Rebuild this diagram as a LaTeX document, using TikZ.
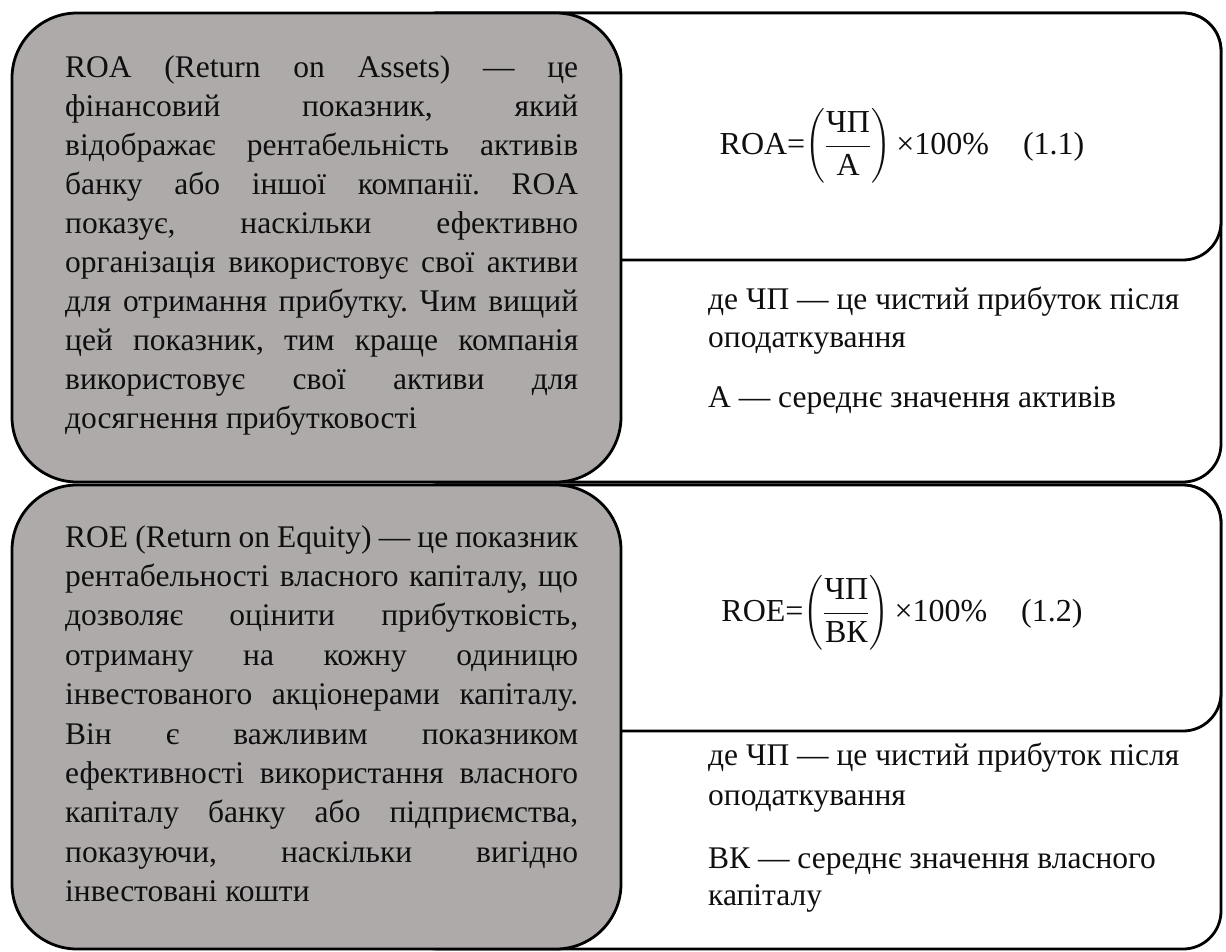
\RequirePackage{fix-cm}
\documentclass[tikz,border=0pt]{standalone}
\usepackage{amsmath}
\usepackage{fontspec}
\setmainfont{Liberation Serif}

\definecolor{boxgray}{RGB}{174,170,170}
\definecolor{ink}{RGB}{15,15,15}

% one justified line of a paragraph: all interword spaces stretch evenly
\newcommand\jline[1]{\hbox to\hsize{\frenchspacing\spaceskip=\fontdimen2\font plus 1fil minus 0.25em\relax #1}}
\newcommand\lline[1]{\hbox{\frenchspacing #1}}

\tikzset{
  frame/.style={draw=black, line width=2.8pt, rounded corners=38pt, fill=white},
  graybox/.style={draw=black, line width=2.8pt, rounded corners=65pt, fill=boxgray},
  body/.style={anchor=base west, inner sep=0pt, text=ink, font=\fontsize{31.5}{39}\selectfont},
  formula/.style={anchor=center, inner sep=0pt, text=ink, font=\fontsize{32}{39}\selectfont},
}

\begin{document}
\begin{tikzpicture}[x=1pt, y=-1pt]
  \useasboundingbox[fill=white] (0,0) rectangle (1226,951);

  % ---- ROA row ----
  \draw[frame] (400,13) rectangle (1221,482);
  \draw[frame] (400,13) rectangle (1221,260);
  \draw[graybox] (12,13) rectangle (621,482);

  \node[body] (roatext) at (65,77) {\vtop{\hsize=513pt \baselineskip=39pt
    \jline{ROA (Return on Assets) — це}
    \jline{фінансовий показник, який}
    \jline{відображає рентабельність активів}
    \jline{банку або іншої компанії. ROA}
    \jline{показує, наскільки ефективно}
    \jline{організація використовує свої активи}
    \jline{для отримання прибутку. Чим вищий}
    \jline{цей показник, тим краще компанія}
    \jline{використовує свої активи для}
    \lline{досягнення прибутковості}}};

  \node[formula] (roaformula) at (902,146)
    {$\text{ROA=}\!\left(\dfrac{\text{ЧП}}{\text{А}}\right)\text{×100\%}$\hspace{34pt}(1.1)};

  \node[body] (roanote) at (708,309) {\vtop{\hsize=500pt \baselineskip=38pt
    \lline{де ЧП — це чистий прибуток після}
    \lline{оподаткування}}};
  \node[body] (roaassets) at (708,407) {А — середнє значення активів};

  % ---- ROE row ----
  \draw[frame] (400,485) rectangle (1221,949);
  \draw[frame] (400,485) rectangle (1221,731);
  \draw[graybox] (12,485) rectangle (621,949);

  \node[body] (roetext) at (65,547) {\vtop{\hsize=513pt \baselineskip=39.4pt
    \jline{ROE (Return on Equity) — це показник}
    \jline{рентабельності власного капіталу, що}
    \jline{дозволяє оцінити прибутковість,}
    \jline{отриману на кожну одиницю}
    \jline{інвестованого акціонерами капіталу.}
    \jline{Він є важливим показником}
    \jline{ефективності використання власного}
    \jline{капіталу банку або підприємства,}
    \jline{показуючи, наскільки вигідно}
    \lline{інвестовані кошти}}};

  \node[formula] (roeformula) at (902,613)
    {$\text{ROE=}\!\left(\dfrac{\text{ЧП}}{\text{ВК}}\right)\text{×100\%}$\hspace{34pt}(1.2)};

  \node[body] (roenote) at (708,765) {\vtop{\hsize=500pt \baselineskip=40pt
    \lline{де ЧП — це чистий прибуток після}
    \lline{оподаткування}}};
  \node[body] (roeequity) at (708,868) {\vtop{\hsize=500pt \baselineskip=37pt
    \lline{ВК — середнє значення власного}
    \lline{капіталу}}};
\end{tikzpicture}
\end{document}
